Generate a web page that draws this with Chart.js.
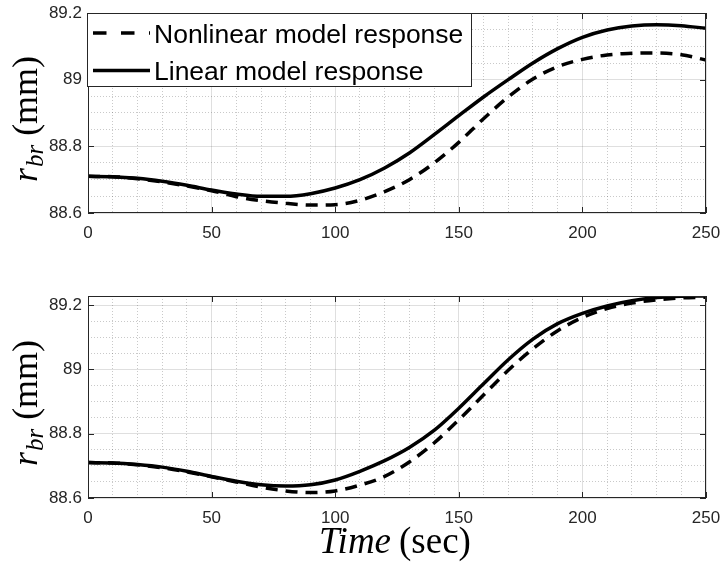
<!DOCTYPE html>
<html>
<head>
<meta charset="utf-8">
<script src="https://cdn.jsdelivr.net/npm/chart.js@4.4.1/dist/chart.umd.min.js"></script>
<style>
html,body{margin:0;padding:0;background:#ffffff;}
#wrap{position:relative;width:721px;height:567px;overflow:hidden;background:#fff;}
canvas{position:absolute;left:0;}
</style>
</head>
<body>
<div id="wrap">
<canvas id="c1" width="721" height="283" style="top:0px;width:721px;height:283px"></canvas>
<canvas id="c2" width="721" height="284" style="top:283px;width:721px;height:284px"></canvas>
</div>
<script>
// ---- data ----
const timeSec = [0,10,20,30,40,50,60,70,80,90,100,110,120,130,140,150,160,170,180,190,200,210,220,230,240,250];

const topNonlinear = [88.710,88.709,88.703,88.693,88.681,88.667,88.649,88.637,88.629,88.624,88.625,88.638,88.664,88.700,88.750,88.812,88.883,88.948,89.002,89.039,89.061,89.074,89.079,89.080,89.075,89.059];
const topLinear    = [88.710,88.709,88.704,88.695,88.683,88.669,88.657,88.650,88.650,88.658,88.675,88.700,88.735,88.780,88.835,88.892,88.948,89.000,89.050,89.093,89.127,89.149,89.161,89.165,89.162,89.154];

const bottomNonlinear = [88.710,88.709,88.703,88.694,88.681,88.666,88.650,88.634,88.622,88.617,88.622,88.640,88.667,88.712,88.771,88.843,88.920,88.997,89.064,89.120,89.161,89.189,89.206,89.216,89.222,89.224];
const bottomLinear    = [88.710,88.709,88.704,88.696,88.683,88.667,88.652,88.641,88.637,88.641,88.656,88.683,88.716,88.757,88.810,88.879,88.955,89.030,89.094,89.142,89.174,89.197,89.213,89.223,89.227,89.228];

const seriesNames = ['Nonlinear model response', 'Linear model response'];
const xTickLabels = [0, 50, 100, 150, 200, 250];
const yTickLabels = [88.6, 88.8, 89, 89.2];
const xMinorStep = 10;
const yMinorDiv = 4;
const xRange = [0, 250];
const yRangeTop = [88.6, 89.2];
const yRangeBottom = [88.6, 89.228];
const xTitleItalic = 'Time';
const xTitleRoman = '(sec)';
const yTitleMain = 'r';
const yTitleSub = 'br';
const yTitleUnit = '(mm)';

// ---- styling ----
const axisColor = '#262626';
const serif = '"Liberation Serif", "DejaVu Serif", serif';
const sans = '"Liberation Sans", Arial, sans-serif';

function pts(xs, ys) { return xs.map((x, i) => ({x: x, y: ys[i]})); }

function xTicks(scale) {
  const t = [];
  for (let v = xRange[0]; v <= xRange[1] + 1e-9; v += xMinorStep) {
    t.push({value: v, minor: !xTickLabels.includes(v)});
  }
  scale.ticks = t;
}
function yTicksFor(max) {
  return function(scale) {
    const t = [];
    for (let i = 0; i < yTickLabels.length; i++) {
      t.push({value: yTickLabels[i], minor: false});
      if (i < yTickLabels.length - 1) {
        const a = yTickLabels[i], b = yTickLabels[i + 1];
        for (let k = 1; k < yMinorDiv; k++) t.push({value: a + (b - a) * k / yMinorDiv, minor: true});
      }
    }
    scale.ticks = t.filter(o => o.value <= max + 1e-9).sort((p, q) => p.value - q.value);
  };
}

const gridColor = (c) => (c.tick && c.tick.minor) ? 'rgba(38,38,38,0.25)' : 'rgba(38,38,38,0.15)';
const gridDash = (c) => (c.tick && c.tick.minor) ? [1, 2] : [];

const framePlugin = {
  id: 'frame',
  afterDatasetsDraw(chart, args, opts) {
    const ctx = chart.ctx, a = chart.chartArea, xs = chart.scales.x, ys = chart.scales.y;
    ctx.save();
    ctx.setLineDash([]);
    ctx.strokeStyle = axisColor;
    ctx.lineWidth = 1;
    ctx.strokeRect(a.left + 0.5, a.top + 0.5, a.right - a.left - 1, a.bottom - a.top - 1);
    const tl = 6;
    ctx.beginPath();
    xTickLabels.forEach(v => {
      const px = Math.round(xs.getPixelForValue(v)) + 0.5;
      ctx.moveTo(px, a.bottom); ctx.lineTo(px, a.bottom - tl);
      ctx.moveTo(px, a.top); ctx.lineTo(px, a.top + tl);
    });
    yTickLabels.forEach(v => {
      if (v > ys.max + 1e-9) return;
      const py = Math.round(ys.getPixelForValue(v)) + 0.5;
      ctx.moveTo(a.left, py); ctx.lineTo(a.left + tl, py);
      ctx.moveTo(a.right, py); ctx.lineTo(a.right - tl, py);
    });
    ctx.stroke();

    // legend
    if (opts.legend) {
      const ds = chart.data.datasets;
      const bx = a.left - 1, by = a.top, bw = 385, bh = 74;
      ctx.fillStyle = '#ffffff';
      ctx.fillRect(bx, by, bw, bh);
      ctx.strokeStyle = axisColor;
      ctx.lineWidth = 1;
      ctx.strokeRect(bx + 0.5, by + 0.5, bw - 1, bh - 1);
      const rows = [{cy: a.top + 20, base: a.top + 30}, {cy: a.top + 57.5, base: a.top + 67}];
      ds.forEach((d, i) => {
        ctx.beginPath();
        ctx.strokeStyle = d.borderColor;
        ctx.lineWidth = d.borderWidth;
        ctx.setLineDash(d.borderDash && d.borderDash.length ? [13.5, 14.5] : []);
        ctx.moveTo(a.left + 5, rows[i].cy);
        ctx.lineTo(a.left + 62, rows[i].cy);
        ctx.stroke();
        ctx.setLineDash([]);
        ctx.fillStyle = '#000000';
        ctx.font = '26.5px ' + sans;
        ctx.textAlign = 'left';
        ctx.textBaseline = 'alphabetic';
        ctx.fillText(d.label, a.left + 66, rows[i].base);
      });
    }

    // y title (rotated)
    {
      const big = '36px ' + serif;
      const bigIt = 'italic 36px ' + serif;
      const subIt = 'italic 25px ' + serif;
      ctx.font = bigIt; const w1 = ctx.measureText(yTitleMain).width;
      ctx.font = subIt; const w2 = ctx.measureText(yTitleSub).width;
      ctx.font = big; const w3 = ctx.measureText(yTitleUnit).width;
      const gap = 9;
      const total = w1 + 1 + w2 + gap + w3;
      const cy = (a.top + a.bottom) / 2 + 6;
      ctx.translate(37, cy);
      ctx.rotate(-Math.PI / 2);
      ctx.fillStyle = '#000000';
      ctx.textAlign = 'left';
      ctx.textBaseline = 'alphabetic';
      let x0 = -total / 2;
      ctx.font = bigIt; ctx.fillText(yTitleMain, x0, 0); x0 += w1 + 1;
      ctx.font = subIt; ctx.fillText(yTitleSub, x0, 6); x0 += w2 + gap;
      ctx.font = big; ctx.fillText(yTitleUnit, x0, 0);
      ctx.setTransform(1, 0, 0, 1, 0, 0);
    }

    // x title
    if (opts.xTitle) {
      const itF = 'italic 37px ' + serif, rmF = '37px ' + serif;
      ctx.font = itF; const w1 = ctx.measureText(xTitleItalic).width;
      ctx.font = rmF; const w2 = ctx.measureText(xTitleRoman).width;
      const gap = 8;
      const total = w1 + gap + w2;
      const cx = (a.left + a.right) / 2 - 2;
      const base = a.bottom + 55;
      ctx.fillStyle = '#000000';
      ctx.textAlign = 'left';
      ctx.textBaseline = 'alphabetic';
      ctx.font = itF; ctx.fillText(xTitleItalic, cx - total / 2, base);
      ctx.font = rmF; ctx.fillText(xTitleRoman, cx - total / 2 + w1 + gap, base);
    }
    ctx.restore();
  }
};

function makeChart(id, nonlinear, linear, yRange, xAxisH, showLegend, showXTitle) {
  return new Chart(document.getElementById(id), {
    type: 'line',
    data: {
      datasets: [
        {label: seriesNames[0], data: pts(timeSec, nonlinear), borderColor: '#000000', borderWidth: 3.5,
         borderDash: [12, 8], pointRadius: 0, fill: false, cubicInterpolationMode: 'monotone'},
        {label: seriesNames[1], data: pts(timeSec, linear), borderColor: '#000000', borderWidth: 3.5,
         borderDash: [], pointRadius: 0, fill: false, cubicInterpolationMode: 'monotone'}
      ]
    },
    options: {
      responsive: false,
      animation: false,
      devicePixelRatio: 1,
      layout: {autoPadding: false, padding: {top: 13, right: 15, left: 0, bottom: 0}},
      plugins: {legend: {display: false}, tooltip: {enabled: false},
                frame: {legend: showLegend, xTitle: showXTitle}},
      scales: {
        x: {
          type: 'linear', min: xRange[0], max: xRange[1],
          afterBuildTicks: xTicks,
          afterFit: (s) => { s.height = xAxisH; s.paddingLeft = 0; s.paddingRight = 0; },
          grid: {color: gridColor, lineWidth: 1, drawTicks: false},
          border: {display: false, dash: gridDash},
          ticks: {autoSkip: false, maxRotation: 0, padding: 10, color: axisColor,
                  font: {family: sans, size: 17},
                  callback: (v) => xTickLabels.includes(v) ? String(v) : ''}
        },
        y: {
          type: 'linear', min: yRange[0], max: yRange[1],
          afterBuildTicks: yTicksFor(yRange[1]),
          afterFit: (s) => { s.width = 88; s.paddingTop = 0; s.paddingBottom = 0; },
          grid: {color: gridColor, lineWidth: 1, drawTicks: false},
          border: {display: false, dash: gridDash},
          ticks: {autoSkip: false, padding: 6, color: axisColor,
                  font: {family: sans, size: 17},
                  callback: (v) => {
                    const m = yTickLabels.find(t => Math.abs(t - v) < 1e-6);
                    return m !== undefined ? String(m) : '';
                  }}
        }
      }
    },
    plugins: [framePlugin]
  });
}

makeChart('c1', topNonlinear, topLinear, yRangeTop, 70, true, false);
makeChart('c2', bottomNonlinear, bottomLinear, yRangeBottom, 69, false, true);
</script>
</body>
</html>
